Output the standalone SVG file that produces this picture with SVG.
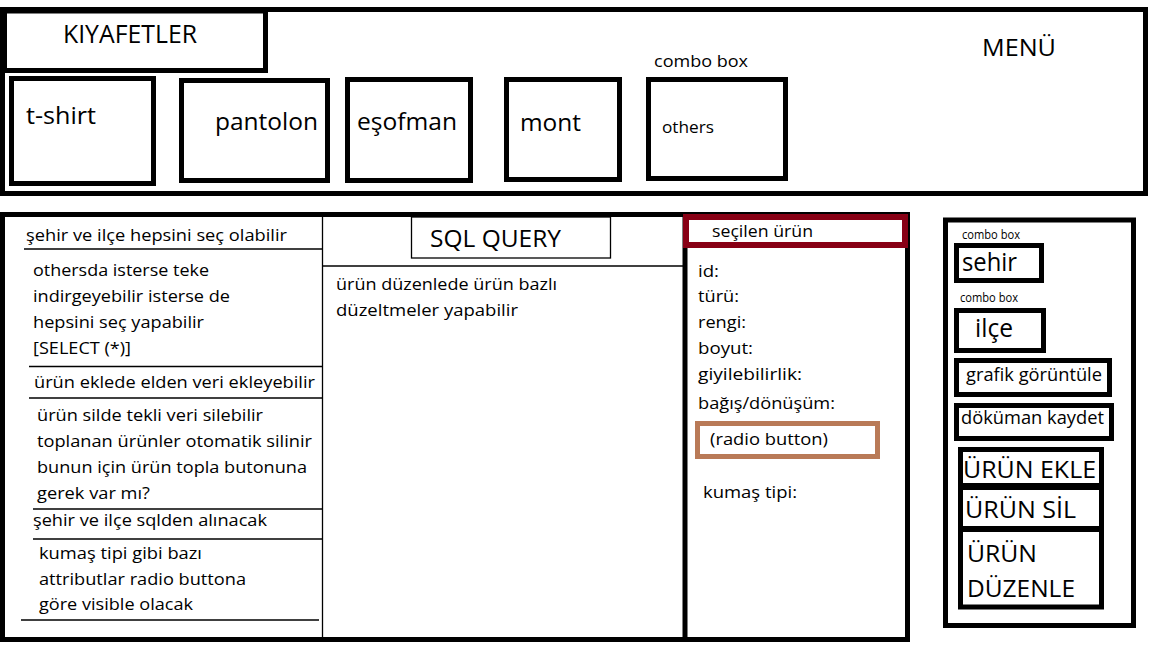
<svg xmlns="http://www.w3.org/2000/svg" width="1152" height="648" viewBox="0 0 1152 648">
<style>
text{font-family:"Open Sans","Noto Sans","DejaVu Sans",sans-serif;fill:#000}
.box{fill:none;stroke:#000;stroke-width:5}
.thin{fill:none;stroke:#000;stroke-width:1.3}
.t23{font-size:23px}
.t25{font-size:25px}
.t17{font-size:17px}
.t16{font-size:16px}
.t18{font-size:18px}
.t12{font-size:12px}
</style>
<rect width="1152" height="648" fill="#fff"/>

<g id="menu-frame">
<rect class="box" x="2.5" y="9.5" width="1143" height="184"/>
<text class="t23" x="982" y="56" textLength="74" lengthAdjust="spacingAndGlyphs">MENÜ</text>
</g>
<g id="kiyafetler">
<rect class="box" x="4.5" y="11" width="261" height="59.5"/>
<text class="t25" x="63" y="43" textLength="134" lengthAdjust="spacingAndGlyphs">KIYAFETLER</text>
</g>
<g id="tshirt">
<rect class="box" x="11.5" y="78.5" width="142" height="105"/>
<text class="t23" x="26" y="124" textLength="70" lengthAdjust="spacingAndGlyphs">t-shirt</text>
</g>
<g id="pantolon">
<rect class="box" x="181.5" y="80.5" width="146" height="100"/>
<text class="t23" x="215" y="130" textLength="103" lengthAdjust="spacingAndGlyphs">pantolon</text>
</g>
<g id="esofman">
<rect class="box" x="347.5" y="79.5" width="123" height="101"/>
<text class="t23" x="357" y="130" textLength="100" lengthAdjust="spacingAndGlyphs">eşofman</text>
</g>
<g id="mont">
<rect class="box" x="506.5" y="79.5" width="113" height="100"/>
<text class="t23" x="520" y="131" textLength="61" lengthAdjust="spacingAndGlyphs">mont</text>
</g>
<g id="others">
<text class="t16" x="654" y="67" textLength="94" lengthAdjust="spacingAndGlyphs">combo box</text>
<rect class="box" x="648.5" y="79.5" width="137" height="99"/>
<text class="t16" x="662" y="133" textLength="52" lengthAdjust="spacingAndGlyphs">others</text>
</g>

<g id="main-frame">
<rect class="box" x="2.5" y="214.5" width="905" height="425"/>
<line x1="685" y1="212" x2="685" y2="642" stroke="#000" stroke-width="5"/>
</g>

<g id="lines">
<line class="thin" x1="322.5" y1="217" x2="322.5" y2="637"/>
<line class="thin" x1="24" y1="249" x2="322" y2="249"/>
<line class="thin" x1="29" y1="366.5" x2="322" y2="366.5"/>
<line class="thin" x1="29" y1="398" x2="322" y2="398"/>
<line class="thin" x1="33" y1="509" x2="322" y2="509"/>
<line class="thin" x1="33" y1="539" x2="322" y2="539"/>
<line class="thin" x1="21" y1="620" x2="319" y2="620"/>
<line class="thin" x1="322" y1="266" x2="683" y2="266"/>
</g>

<g id="notes">
<text class="t17" x="26" y="241" textLength="261" lengthAdjust="spacingAndGlyphs">şehir ve ilçe hepsini seç olabilir</text>
<text class="t17" x="33" y="276" textLength="176" lengthAdjust="spacingAndGlyphs">othersda isterse teke</text>
<text class="t17" x="33" y="302" textLength="197" lengthAdjust="spacingAndGlyphs">indirgeyebilir isterse de</text>
<text class="t17" x="33" y="328" textLength="171" lengthAdjust="spacingAndGlyphs">hepsini seç yapabilir</text>
<text class="t17" x="33" y="354" textLength="98" lengthAdjust="spacingAndGlyphs">[SELECT (*)]</text>
<text class="t17" x="34" y="388" textLength="281" lengthAdjust="spacingAndGlyphs">ürün eklede elden veri ekleyebilir</text>
<text class="t17" x="37" y="421" textLength="226" lengthAdjust="spacingAndGlyphs">ürün silde tekli veri silebilir</text>
<text class="t17" x="37" y="447" textLength="275" lengthAdjust="spacingAndGlyphs">toplanan ürünler otomatik silinir</text>
<text class="t17" x="37" y="473" textLength="270" lengthAdjust="spacingAndGlyphs">bunun için ürün topla butonuna</text>
<text class="t17" x="37" y="499" textLength="113" lengthAdjust="spacingAndGlyphs">gerek var mı?</text>
<text class="t17" x="33" y="526" textLength="234" lengthAdjust="spacingAndGlyphs">şehir ve ilçe sqlden alınacak</text>
<text class="t17" x="39" y="559" textLength="163" lengthAdjust="spacingAndGlyphs">kumaş tipi gibi bazı</text>
<text class="t17" x="39" y="585" textLength="207" lengthAdjust="spacingAndGlyphs">attributlar radio buttona</text>
<text class="t17" x="39" y="610" textLength="154" lengthAdjust="spacingAndGlyphs">göre visible olacak</text>
</g>

<g id="sql-query">
<rect class="thin" x="411.5" y="217" width="199" height="41"/>
<text class="t23" x="430" y="247" textLength="131" lengthAdjust="spacingAndGlyphs">SQL QUERY</text>
<text class="t17" x="336" y="290" textLength="221" lengthAdjust="spacingAndGlyphs">ürün düzenlede ürün bazlı</text>
<text class="t17" x="336" y="316" textLength="182" lengthAdjust="spacingAndGlyphs">düzeltmeler yapabilir</text>
</g>

<g id="secilen-urun">
<rect x="686" y="217" width="219" height="28" fill="none" stroke="#880015" stroke-width="6"/>
<text class="t17" x="712" y="237" textLength="101" lengthAdjust="spacingAndGlyphs">seçilen ürün</text>
<text class="t17" x="698" y="277" textLength="21" lengthAdjust="spacingAndGlyphs">id:</text>
<text class="t17" x="698" y="302" textLength="41" lengthAdjust="spacingAndGlyphs">türü:</text>
<text class="t17" x="698" y="328" textLength="48" lengthAdjust="spacingAndGlyphs">rengi:</text>
<text class="t17" x="698" y="354" textLength="55" lengthAdjust="spacingAndGlyphs">boyut:</text>
<text class="t17" x="698" y="380" textLength="104" lengthAdjust="spacingAndGlyphs">giyilebilirlik:</text>
<text class="t17" x="698" y="409" textLength="137" lengthAdjust="spacingAndGlyphs">bağış/dönüşüm:</text>
<text class="t17" x="703" y="498" textLength="94" lengthAdjust="spacingAndGlyphs">kumaş tipi:</text>
</g>
<g id="radio-button">
<rect x="697.5" y="423.5" width="180" height="33" fill="none" stroke="#B97A57" stroke-width="5"/>
<text class="t17" x="710" y="445" textLength="118" lengthAdjust="spacingAndGlyphs">(radio button)</text>
</g>

<g id="side-panel">
<rect class="box" x="945.5" y="220" width="188" height="405.5"/>
</g>
<g id="sehir">
<text class="t12" x="962" y="239" textLength="58" lengthAdjust="spacingAndGlyphs">combo box</text>
<rect class="box" x="956.5" y="245.5" width="85" height="35"/>
<text class="t25" x="962" y="271" textLength="55" lengthAdjust="spacingAndGlyphs">sehir</text>
</g>
<g id="ilce">
<text class="t12" x="960" y="302" textLength="58" lengthAdjust="spacingAndGlyphs">combo box</text>
<rect class="box" x="956.5" y="310.5" width="87" height="40"/>
<text class="t25" x="975" y="337" textLength="38" lengthAdjust="spacingAndGlyphs">ilçe</text>
</g>
<g id="grafik">
<rect class="box" x="956.5" y="360.5" width="153" height="34"/>
<text class="t18" x="966" y="381" textLength="136" lengthAdjust="spacingAndGlyphs">grafik görüntüle</text>
</g>
<g id="dokuman">
<rect class="box" x="956.5" y="405.5" width="155" height="33"/>
<text class="t18" x="961" y="424" textLength="143" lengthAdjust="spacingAndGlyphs">döküman kaydet</text>
</g>
<g id="urun-ekle">
<rect class="box" x="960.5" y="449.5" width="141" height="36"/>
<text class="t23" x="963" y="478" textLength="133" lengthAdjust="spacingAndGlyphs">ÜRÜN EKLE</text>
</g>
<g id="urun-sil">
<rect class="box" x="960.5" y="487.5" width="141" height="41"/>
<text class="t23" x="965" y="518" textLength="111" lengthAdjust="spacingAndGlyphs">ÜRÜN SİL</text>
</g>
<g id="urun-duzenle">
<rect class="box" x="960.5" y="529.5" width="141" height="77.5"/>
<text class="t23" x="967" y="562" textLength="70" lengthAdjust="spacingAndGlyphs">ÜRÜN</text>
<text class="t23" x="967" y="597" textLength="108" lengthAdjust="spacingAndGlyphs">DÜZENLE</text>
</g>
</svg>
